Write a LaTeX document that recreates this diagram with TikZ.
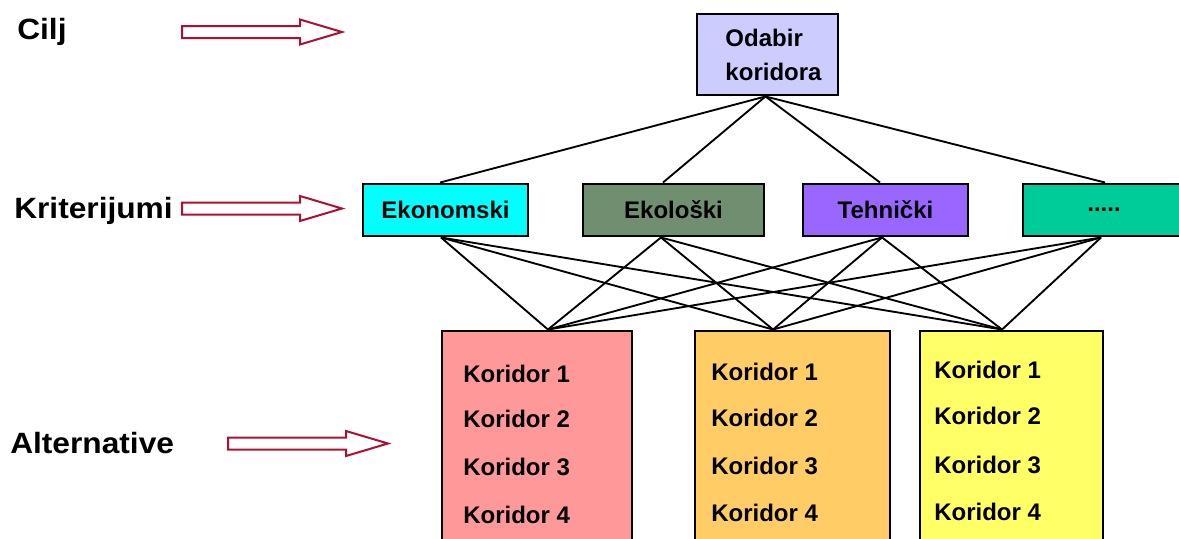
\documentclass[tikz,border=0pt]{standalone}
\usepackage{fontspec}
\setmainfont{Liberation Sans}
\usetikzlibrary{backgrounds}

\definecolor{goalfill}{HTML}{CCCCFF}
\definecolor{ekonfill}{HTML}{00FFFF}
\definecolor{ekolfill}{HTML}{708F70}
\definecolor{tehnfill}{HTML}{9966FF}
\definecolor{otherfill}{HTML}{00CC99}
\definecolor{altpink}{HTML}{FF9999}
\definecolor{altorange}{HTML}{FFCC66}
\definecolor{altyellow}{HTML}{FFFF66}
\definecolor{arrowred}{HTML}{B01030}

\begin{document}
\begin{tikzpicture}[x=0.75pt,y=-0.75pt,
  boxtext/.style={font=\bfseries\fontsize{18}{25.5}\selectfont},
  levellabel/.style={anchor=base west,inner sep=0pt,font=\bfseries\fontsize{22}{26}\selectfont},
  critbox/.style={draw=black,line width=2.2pt,minimum height=52*0.75pt,inner sep=0pt,boxtext},
  altbox/.style={draw=black,line width=2.2pt,minimum height=229*0.75pt,inner sep=0pt},
  alttext/.style={anchor=west,inner sep=0pt,boxtext},
  link/.style={draw=black,line width=1.4pt},
  arrowline/.style={draw=arrowred,line width=1.5pt,fill=white,line join=miter},
  hollow arrow/.pic={
    \path[arrowline] (0,-6) -- (118,-6) -- (118,-12.5) -- (160,0)
      -- (118,12.5) -- (118,6) -- (0,6) -- cycle;
  }]
\useasboundingbox (0,0) rectangle (1179,539);
\clip (0,0) rectangle (1179,539);

% level labels and their arrows
\node[levellabel] (lblgoal) at (17,39) {\scalebox{1.08}[1]{Cilj}};
\node[levellabel] (lblcrit) at (14,218) {\scalebox{1.08}[1]{Kriterijumi}};
\node[levellabel] (lblalt) at (10,453) {\scalebox{1.08}[1]{Alternative}};
\pic at (182,32) {hollow arrow};
\pic at (182,208.5) {hollow arrow};
\pic at (228,443.5) {hollow arrow};

% goal
\node[draw=black,line width=2.2pt,fill=goalfill,minimum width=141*0.75pt,
      minimum height=81*0.75pt,inner sep=0pt] (goal) at (767.5,54.5) {};
\node[boxtext,align=left,inner sep=0pt] (goaltxt) at (773.5,55) {Odabir\\koridora};

% criteria
\node[critbox,fill=ekonfill,minimum width=165*0.75pt] (ekon) at (445.5,210) {Ekonomski};
\node[critbox,fill=ekolfill,minimum width=181*0.75pt] (ekol) at (673.5,210) {Ekološki};
\node[critbox,fill=tehnfill,minimum width=165*0.75pt] (tehn) at (885.5,210) {Tehnički};
\node[critbox,fill=otherfill,minimum width=162*0.75pt] (other) at (1104,210) {.....};

% alternatives
\node[altbox,fill=altpink,minimum width=190*0.75pt] (altA) at (537,445.5) {};
\node[altbox,fill=altorange,minimum width=195*0.75pt] (altB) at (792.5,445.5) {};
\node[altbox,fill=altyellow,minimum width=183*0.75pt] (altC) at (1011.5,445.5) {};

\foreach \i/\y in {1/374,2/419,3/467,4/515}
  \node[alttext] (a\i) at (463,\y) {Koridor \i};
\foreach \i/\y in {1/372,2/418,3/466,4/513}
  \node[alttext] (b\i) at (711,\y) {Koridor \i};
\foreach \i/\y in {1/370,2/416,3/465,4/512}
  \node[alttext] (c\i) at (934,\y) {Koridor \i};

% connection points on the box edges
\coordinate (ekonT) at ([xshift=-4.1pt]ekon.north);
\coordinate (ekolT) at ([xshift=-7.9pt]ekol.north);
\coordinate (tehnT) at ([xshift=-4.1pt]tehn.north);
\coordinate (otherT) at ([xshift=0.8pt]other.north);
\coordinate (ekonB) at ([xshift=-3.4pt]ekon.south);
\coordinate (ekolB) at ([xshift=-9.4pt]ekol.south);
\coordinate (tehnB) at ([xshift=-2.6pt]tehn.south);
\coordinate (otherB) at ([xshift=-2.2pt]other.south);
\coordinate (altAT) at ([xshift=8.2pt]altA.north);
\coordinate (altBT) at ([xshift=-14.6pt]altB.north);
\coordinate (altCT) at ([xshift=-7.1pt]altC.north);
\coordinate (goalB) at ([xshift=-1.5pt]goal.south);

\begin{pgfonlayer}{background}
  \foreach \c in {ekonT,ekolT,tehnT,otherT}
    \draw[link] (goalB) -- (\c);
  \foreach \c in {ekonB,ekolB,tehnB,otherB}
    \foreach \a in {altAT,altBT,altCT}
      \draw[link] (\c) -- (\a);
\end{pgfonlayer}
\end{tikzpicture}
\end{document}
